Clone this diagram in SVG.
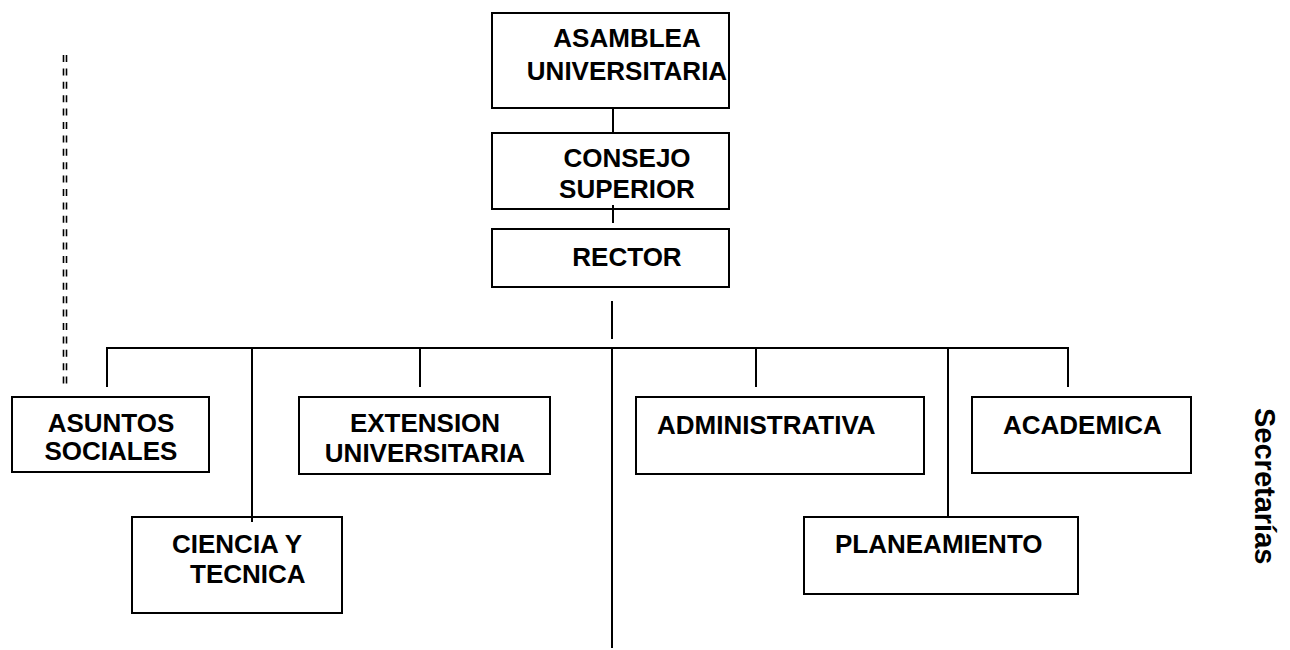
<svg xmlns="http://www.w3.org/2000/svg" width="1290" height="650" viewBox="0 0 1290 650">
<style>
.box{fill:#fff;stroke:#000;stroke-width:2}
.t{font-family:"Liberation Sans",Arial,sans-serif;font-weight:bold;font-size:26px;fill:#000}
.c{text-anchor:middle}
.ln{stroke:#000;stroke-width:2;fill:none}
.dash{stroke:#000;stroke-width:1.6;fill:none;stroke-dasharray:7 6.4}
</style>
<rect width="1290" height="650" fill="#fff"/>
<g id="asamblea">
<rect class="box" x="492" y="13" width="237" height="95"/>
<text class="t c" x="627" y="47">ASAMBLEA</text>
<text class="t c" x="627" y="80">UNIVERSITARIA</text>
</g>
<g id="consejo">
<rect class="box" x="492" y="133" width="237" height="76"/>
<text class="t c" x="627" y="167">CONSEJO</text>
<text class="t c" x="627" y="198">SUPERIOR</text>
</g>
<g id="rector">
<rect class="box" x="492" y="229" width="237" height="58"/>
<text class="t c" x="627" y="266">RECTOR</text>
</g>
<g id="asuntos">
<rect class="box" x="12" y="397" width="197" height="75"/>
<text class="t c" x="111" y="432">ASUNTOS</text>
<text class="t c" x="111" y="460">SOCIALES</text>
</g>
<g id="extension">
<rect class="box" x="299" y="397" width="251" height="77"/>
<text class="t c" x="425" y="432">EXTENSION</text>
<text class="t c" x="425" y="462">UNIVERSITARIA</text>
</g>
<g id="ciencia">
<rect class="box" x="132" y="517" width="210" height="96"/>
<text class="t" x="172" y="553">CIENCIA Y</text>
<text class="t" x="190" y="583">TECNICA</text>
</g>
<g id="administrativa">
<rect class="box" x="636" y="397" width="288" height="77"/>
<text class="t" x="657" y="434">ADMINISTRATIVA</text>
</g>
<g id="academica">
<rect class="box" x="972" y="397" width="219" height="76"/>
<text class="t" x="1003" y="434">ACADEMICA</text>
</g>
<g id="planeamiento">
<rect class="box" x="804" y="517" width="274" height="77"/>
<text class="t" x="835" y="553">PLANEAMIENTO</text>
</g>
<g id="secretarias">
<text class="t" style="font-size:29px" transform="translate(1255,408) rotate(90)">Secretarías</text>
</g>
<g id="connectors">
<line class="ln" x1="613" y1="108" x2="613" y2="133"/>
<line class="ln" x1="613" y1="205" x2="613" y2="223"/>
<line class="ln" x1="612" y1="301" x2="612" y2="339"/>
<line class="ln" x1="106" y1="348" x2="1069" y2="348"/>
<line class="ln" x1="107" y1="348" x2="107" y2="387"/>
<line class="ln" x1="420" y1="348" x2="420" y2="387"/>
<line class="ln" x1="756" y1="348" x2="756" y2="387"/>
<line class="ln" x1="1068" y1="348" x2="1068" y2="387"/>
<line class="ln" x1="252" y1="348" x2="252" y2="522"/>
<line class="ln" x1="948" y1="348" x2="948" y2="517"/>
<line class="ln" x1="612" y1="348" x2="612" y2="648"/>
<line class="dash" x1="63.5" y1="55" x2="63.5" y2="384"/>
<line class="dash" x1="66.5" y1="55" x2="66.5" y2="384"/>
</g>
</svg>
